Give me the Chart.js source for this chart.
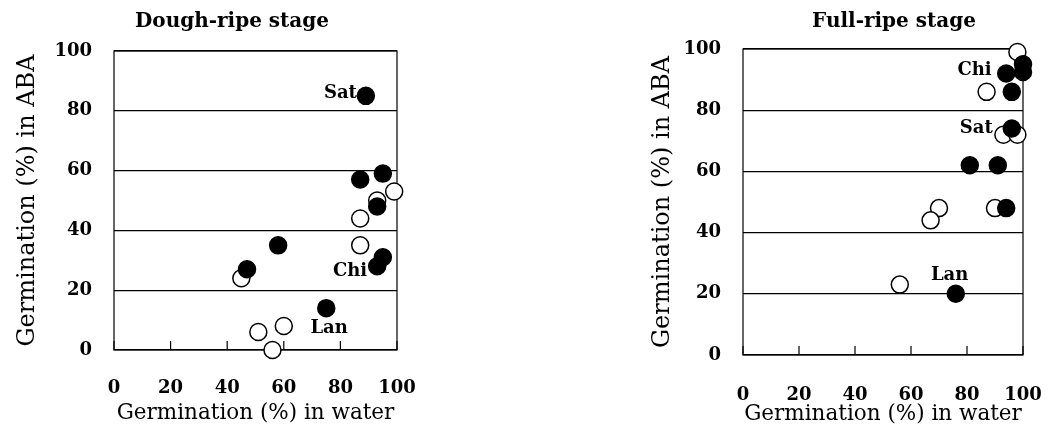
<!DOCTYPE html>
<html>
<head>
<meta charset="utf-8">
<script src="https://cdn.jsdelivr.net/npm/chart.js@4"></script>
<style>
html, body { margin: 0; padding: 0; background: #fff; }
#wrap { position: relative; width: 1050px; height: 430px; }
.panel { position: absolute; top: 0; width: 420px; height: 430px; }
</style>
</head>
<body>
<div id="wrap">
    <div class="panel" style="left:0"><canvas id="dough" width="420" height="430"></canvas></div>
    <div class="panel" style="left:630px"><canvas id="full" width="420" height="430"></canvas></div>
</div>
<script>
var xTicks = [0, 20, 40, 60, 80, 100];
var yTicks = [0, 20, 40, 60, 80, 100];

// Dough-ripe stage (filled = one group, open = the other)
var doughFilledX = [89, 87, 95, 93, 58, 47, 95, 93, 75];
var doughFilledY = [85, 57, 59, 48, 35, 27, 31, 28, 14];
var doughOpenX = [99, 93, 87, 87, 45, 51, 60, 56];
var doughOpenY = [53, 50, 44, 35, 24, 6, 8, 0];
var doughNames = ['Sat', 'Chi', 'Lan'];
var doughNameX = [80, 83.4, 76];
var doughNameY = [85.7, 26.4, 7.4];

// Full-ripe stage
var fullFilledX = [94, 100, 100, 96, 96, 81, 91, 94, 76];
var fullFilledY = [92, 95, 92.5, 86, 74, 62, 62, 48, 20];
var fullOpenX = [98, 87, 93, 98, 90, 70, 67, 56];
var fullOpenY = [99, 86, 72, 72, 48, 48, 44, 23];
var fullNames = ['Chi', 'Sat', 'Lan'];
var fullNameX = [82.7, 83.3, 73.8];
var fullNameY = [93, 74.1, 26.1];

var serif = '"DejaVu Serif", "Liberation Serif", serif';
Chart.defaults.color = '#000';

// Box round the plot, small inner ticks on the bottom axis, stage title and variety names
var notes = {
    id: 'notes',
    beforeDatasetsDraw: function(chart) {
        var a = chart.chartArea, ctx = chart.ctx, xs = chart.scales.x;
        ctx.save();
        ctx.strokeStyle = '#000';
        ctx.lineWidth = 1.2;
        ctx.strokeRect(a.left, a.top, a.right - a.left, a.bottom - a.top);
        xs.ticks.forEach(function(t) {
            var px = xs.getPixelForValue(t.value);
            ctx.beginPath();
            ctx.moveTo(px, a.bottom);
            ctx.lineTo(px, a.bottom - 9);
            ctx.stroke();
        });
        ctx.restore();
    },
    afterDraw: function(chart, args, opts) {
        var ctx = chart.ctx, xs = chart.scales.x, ys = chart.scales.y;
        ctx.save();
        ctx.fillStyle = '#000';
        ctx.textAlign = 'center';
        ctx.textBaseline = 'middle';
        ctx.font = 'bold 20px ' + serif;
        ctx.fillText(opts.title, opts.titleX, opts.titleY);
        ctx.font = 'bold 18px ' + serif;
        for (var i = 0; i < opts.names.length; i++) {
            ctx.fillText(opts.names[i], xs.getPixelForValue(opts.nameX[i]), ys.getPixelForValue(opts.nameY[i]));
        }
        ctx.restore();
    }
};

function points(xv, yv) {
    return xv.map(function(x, i) { return {x: x, y: yv[i]}; });
}

function makeChart(id, filledX, filledY, openX, openY, note, dims) {
    return new Chart(document.getElementById(id), {
        type: 'scatter',
        data: {
            datasets: [
                { data: points(filledX, filledY), backgroundColor: '#000', borderColor: '#000',
                  pointRadius: 8.5, pointHoverRadius: 8.5, borderWidth: 1.5, clip: false },
                { data: points(openX, openY), backgroundColor: '#fff', borderColor: '#000',
                  pointRadius: 8.5, pointHoverRadius: 8.5, borderWidth: 1.5, clip: false }
            ]
        },
        options: {
            responsive: false,
            animation: false,
            layout: { padding: { top: dims.top, right: dims.right, left: 0, bottom: 0 } },
            plugins: {
                legend: { display: false },
                tooltip: { enabled: false },
                notes: note
            },
            scales: {
                x: {
                    type: 'linear', min: 0, max: 100,
                    afterBuildTicks: function(s) { s.ticks = xTicks.map(function(v) { return {value: v}; }); },
                    afterFit: function(s) {
                        s.height = dims.xHeight;
                        s.paddingLeft = 0;
                        s.paddingRight = 0;
                    },
                    grid: { display: false, drawTicks: false },
                    border: { display: false },
                    ticks: { padding: dims.xPad, font: { family: serif, size: 18, weight: 'bold' }, color: '#000' },
                    title: { display: true, text: 'Germination (%) in water', color: '#000',
                             font: { family: serif, size: 21.5 }, padding: { top: 0, bottom: dims.xTitlePad } }
                },
                y: {
                    type: 'linear', min: 0, max: 100,
                    afterBuildTicks: function(s) { s.ticks = yTicks.map(function(v) { return {value: v}; }); },
                    afterFit: function(s) {
                        s.width = dims.yWidth;
                        s.paddingTop = 0;
                        s.paddingBottom = 0;
                    },
                    grid: { color: '#000', lineWidth: 1.2, drawTicks: false },
                    border: { display: false },
                    ticks: { padding: 22, font: { family: serif, size: 18, weight: 'bold' }, color: '#000' },
                    title: { display: true, text: 'Germination (%) in ABA', color: '#000',
                             font: { family: serif, size: 24 }, padding: { top: dims.yTitlePad, bottom: 0 } }
                }
            }
        },
        plugins: [notes]
    });
}

makeChart('dough', doughFilledX, doughFilledY, doughOpenX, doughOpenY,
    { title: 'Dough-ripe stage', titleX: 232, titleY: 22, names: doughNames, nameX: doughNameX, nameY: doughNameY },
    { top: 51, right: 23, xHeight: 80, xPad: 28, xTitlePad: 4, yWidth: 114, yTitlePad: 13 });

makeChart('full', fullFilledX, fullFilledY, fullOpenX, fullOpenY,
    { title: 'Full-ripe stage', titleX: 264, titleY: 22, names: fullNames, nameX: fullNameX, nameY: fullNameY },
    { top: 49, right: 27, xHeight: 75, xPad: 30, xTitlePad: 3, yWidth: 113, yTitlePad: 18 });
</script>
</body>
</html>
